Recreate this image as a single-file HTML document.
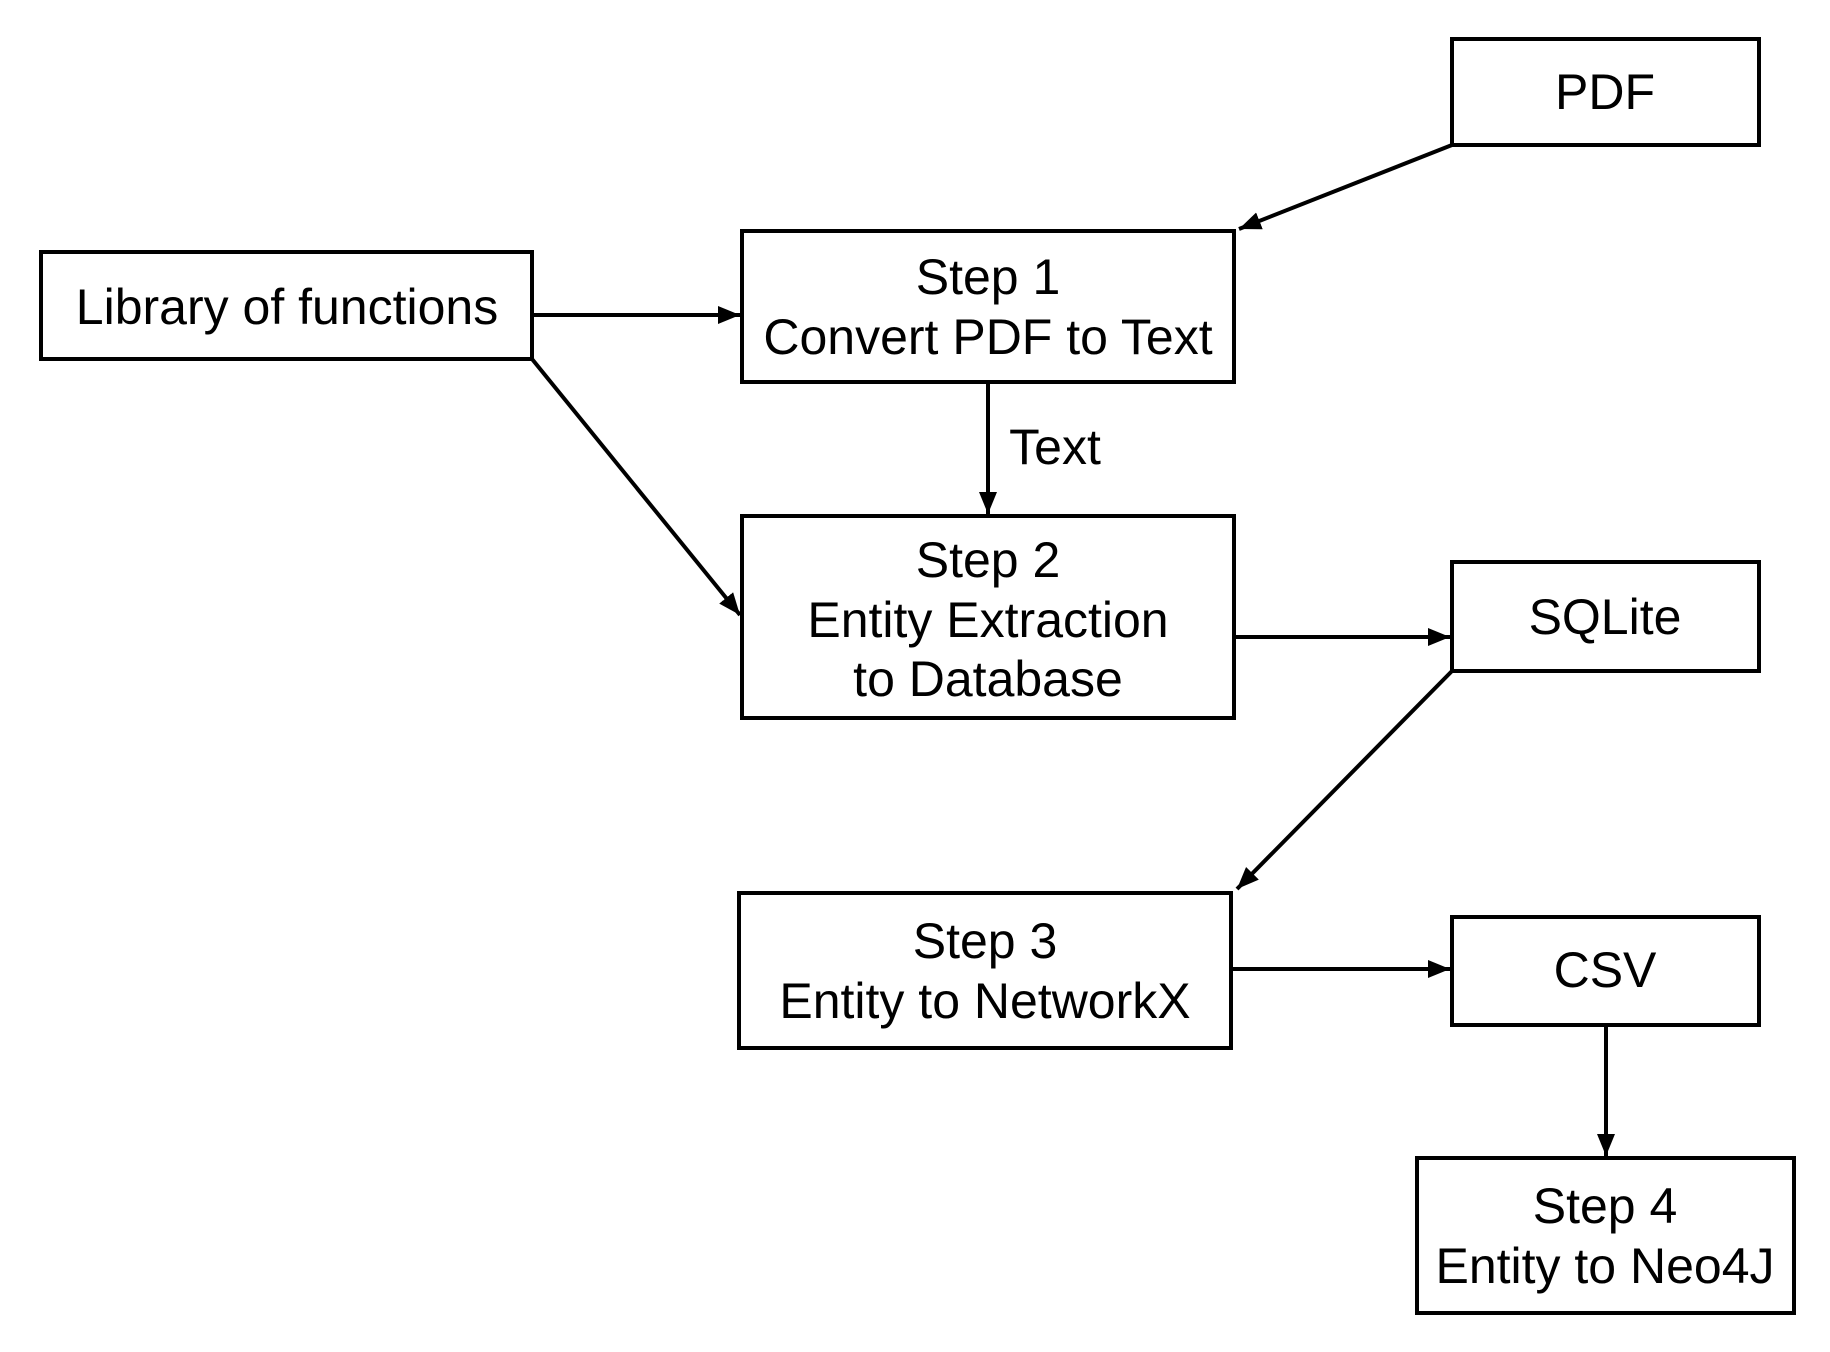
<!DOCTYPE html>
<html><head><style>html,body{margin:0;padding:0;background:#fff}svg{display:block}</style></head>
<body>
<svg width="1830" height="1352" viewBox="0 0 1830 1352" xmlns="http://www.w3.org/2000/svg">
<defs>
<marker id="b" viewBox="0 0 22 18" refX="22" refY="9" markerWidth="22" markerHeight="18" orient="auto" markerUnits="userSpaceOnUse"><path d="M0,0 L22,9 L0,18 z" fill="#000"/></marker></defs>
<g fill="#fff" stroke="#000" stroke-width="4">
<rect x="1452" y="39" width="307" height="106"/>
<rect x="742" y="231" width="492" height="151"/>
<rect x="41" y="252" width="491" height="107"/>
<rect x="742" y="516" width="492" height="202"/>
<rect x="1452" y="562" width="307" height="109"/>
<rect x="739" y="893" width="492" height="155"/>
<rect x="1452" y="917" width="307" height="108"/>
<rect x="1417" y="1158" width="377" height="155"/>
</g>
<g stroke="#000" stroke-width="4" fill="none" marker-end="url(#b)">
<line x1="1452" y1="145" x2="1239" y2="229"/>
<line x1="532" y1="315" x2="740" y2="315"/>
<line x1="532" y1="359" x2="740" y2="615"/>
<line x1="988" y1="382" x2="988" y2="514"/>
<line x1="1234" y1="637" x2="1450" y2="637"/>
<line x1="1452" y1="671" x2="1237" y2="889"/>
<line x1="1231" y1="969" x2="1450" y2="969"/>
<line x1="1606" y1="1025" x2="1606" y2="1156"/>
</g>
<g font-family="Liberation Sans, sans-serif" font-size="50" text-anchor="middle" dominant-baseline="central" fill="#000">
<text x="1605" y="92">PDF</text>
<text x="988" y="277">Step 1</text>
<text x="988" y="337">Convert PDF to Text</text>
<text x="287" y="307">Library of functions</text>
<text x="1055" y="447">Text</text>
<text x="988" y="560">Step 2</text>
<text x="988" y="620">Entity Extraction</text>
<text x="988" y="679">to Database</text>
<text x="1605" y="617">SQLite</text>
<text x="985" y="941">Step 3</text>
<text x="985" y="1001">Entity to NetworkX</text>
<text x="1605" y="970">CSV</text>
<text x="1605" y="1206">Step 4</text>
<text x="1605" y="1266">Entity to Neo4J</text>
</g>
</svg>
</body></html>
